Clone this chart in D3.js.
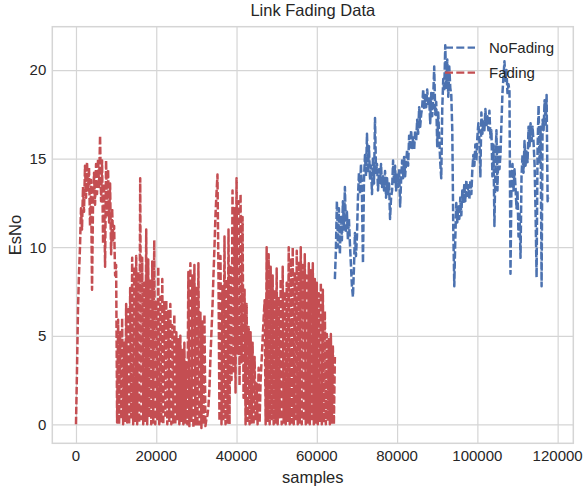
<!DOCTYPE html>
<html>
<head>
<meta charset="utf-8">
<script src="https://cdn.jsdelivr.net/npm/d3@7"></script>
<style>
    body { margin: 0; background: #fff; }
    text { font-family: "Liberation Sans", Arial, sans-serif; fill: #262626; }
</style>
</head>
<body>
<div id="chart"></div>
<script>
// Sample index spacing of the values below
const sampleStep = 250;
const fadingStart = 0;
const noFadingStart = 64500;

// Fading EsNo (samples 0..64500)
const fadingEsNo = [
    0.0, 3.0, 6.5, 8.5, 10.0, 12.2, 11.0, 13.4, 12.0, 14.6,
    12.8, 14.8, 13.2, 14.5, 11.2, 13.8, 7.6, 12.6, 14.2, 12.4,
    14.7, 13.0, 15.0, 13.4, 16.3, 12.6, 14.9, 10.2, 13.6, 8.9,
    14.9, 11.8, 14.4, 11.4, 13.6, 9.6, 12.2, 10.4, 11.2, 8.4,
    9.0, 0.1, 5.9, 0.0, 5.2, 0.3, 6.0, 0.0, 4.6, 0.2,
    6.8, 0.1, 6.5, 0.0, 7.7, 0.4, 9.4, 0.0, 8.9, 0.2,
    9.5, 0.0, 8.6, 0.1, 13.9, 0.3, 9.4, 0.0, 8.0, 0.2,
    11.0, 0.0, 9.3, 0.4, 8.2, 0.0, 9.2, 0.1, 10.4, 0.0,
    7.0, 0.3, 8.9, 0.0, 7.2, 0.1, 8.2, 0.0, 6.9, 0.5,
    7.0, 0.0, 6.4, 0.2, 6.8, 0.0, 5.6, 0.1, 6.2, 0.0,
    5.2, 0.3, 4.8, 0.0, 5.0, 0.2, 4.2, 0.0, 4.6, 0.1,
    3.5, 0.0, 8.6, -0.1, 9.1, 0.2, 8.4, -0.2, 9.0, 0.0,
    7.8, -0.1, 9.1, 0.0, 6.3, -0.2, 5.8, 0.0, 6.2, -0.1,
    0.3, 0.5, 1.0, 2.0, 3.8, 5.2, 6.6, 8.4, 10.0, 11.8,
    13.0, 14.1, 8.5, 0.2, 9.5, 0.0, 7.8, 0.3, 10.6, 0.0,
    8.2, 0.1, 11.0, 0.0, 9.0, 2.5, 13.2, 3.0, 12.2, 1.8,
    13.9, 4.0, 12.6, 2.2, 13.0, 3.5, 11.7, 1.5, 7.6, 0.0,
    6.8, 0.2, 5.5, 0.0, 5.2, 0.1, 4.6, 0.0, 3.8, 0.2,
    2.3, 0.0, 3.2, 0.1, 2.5, 3.6, 4.8, 6.0, 7.0, 0.0,
    10.0, 0.2, 9.6, 0.0, 8.9, 0.3, 8.4, 0.0, 7.6, 0.1,
    8.8, 0.0, 7.2, 0.4, 8.2, 0.0, 8.9, 0.1, 7.5, 0.0,
    8.0, 0.2, 10.0, 0.0, 9.4, 0.1, 10.0, 0.0, 8.6, 0.3,
    9.8, 0.0, 9.2, 0.1, 10.0, 0.0, 9.0, 0.2, 9.6, 0.0,
    8.4, 0.1, 9.1, 0.0, 8.7, 0.3, 9.1, 0.0, 8.2, 0.1,
    8.0, 0.0, 7.4, 0.2, 8.0, 0.0, 7.6, 0.1, 6.4, 0.0,
    5.1, 0.2, 4.8, 0.0, 5.1, 0.1, 4.4, 0.0, 3.8
];

// NoFading EsNo (samples 64500..117750)
const noFadingEsNo = [
    8.2, 9.8, 12.6, 10.0, 12.2, 9.6, 11.8, 10.4, 12.6, 11.0,
    13.4, 10.8, 12.0, 10.4, 11.6, 10.2, 9.0, 7.8, 7.2, 8.8,
    10.8, 9.5, 10.6, 12.8, 14.2, 13.0, 14.7, 12.9, 9.1, 13.8,
    15.2, 14.0, 16.4, 14.2, 15.7, 13.8, 14.6, 13.0, 15.1, 13.6,
    17.3, 14.2, 14.7, 13.2, 14.4, 13.6, 14.7, 13.4, 14.0, 13.2,
    14.3, 12.8, 13.9, 12.9, 13.6, 11.6, 12.8, 13.2, 14.9, 13.6,
    14.6, 13.2, 14.2, 13.4, 14.4, 12.3, 13.8, 14.9, 13.9, 15.1,
    14.0, 14.8, 15.5, 14.6, 16.3, 15.5, 16.6, 15.6, 16.2, 15.5,
    16.6, 16.0, 17.2, 16.4, 17.9, 16.8, 17.5, 17.9, 18.9, 17.8,
    18.6, 17.9, 18.9, 18.0, 18.4, 17.0, 18.7, 17.4, 18.5, 20.2,
    17.5, 18.2, 15.7, 17.6, 16.2, 14.8, 13.9, 17.8, 19.5, 18.8,
    21.4, 19.0, 20.6, 18.5, 20.2, 19.0, 18.6, 16.6, 11.0, 7.8,
    10.5, 12.5, 11.4, 12.3, 11.6, 12.8, 11.8, 13.2, 12.5, 13.6,
    12.6, 13.8, 12.9, 13.5, 12.7, 13.8, 13.0, 14.4, 15.2, 14.6,
    15.8, 14.9, 16.2, 17.0, 16.1, 14.0, 17.6, 16.4, 17.2, 16.6,
    17.8, 16.8, 17.4, 16.6, 17.7, 16.2, 16.6, 14.0, 15.8, 11.2,
    14.8, 16.6, 13.2, 15.8, 14.4, 15.2, 17.0, 18.7, 19.6, 20.5,
    19.4, 20.0, 18.7, 19.2, 18.8, 8.5, 13.6, 14.7, 13.2, 14.4,
    13.4, 12.2, 13.2, 10.6, 12.0, 9.4, 14.0, 15.2, 14.2, 16.0,
    14.6, 15.4, 14.8, 16.8, 15.7, 17.0, 16.0, 16.8, 15.9, 14.7,
    12.0, 8.3, 15.6, 18.0, 14.7, 16.8, 7.8, 17.2, 16.6, 18.3,
    16.8, 18.6, 12.6, 12.8
];

const xTicks = [0, 20000, 40000, 60000, 80000, 100000, 120000];
const yTicks = [0, 5, 10, 15, 20];
const seriesNames = ['NoFading', 'Fading'];

const config = {
    width: 585,
    height: 493,
    plot: { left: 52.3, right: 573.3, top: 26.7, bottom: 443.3 },
    colors: { NoFading: '#4C72B0', Fading: '#C44E52' },
    grid: '#d5d5d5',
    lineWidth: 2.5,
    dash: '7.5,2.5'
};

const toPoints = (values, start) => values.map((v, i) => ({ x: start + i * sampleStep, y: v }));

const series = [
    { name: 'NoFading', points: toPoints(noFadingEsNo, noFadingStart) },
    { name: 'Fading', points: toPoints(fadingEsNo, fadingStart) }
];

const p = config.plot;

const svg = d3.select('#chart')
    .append('svg')
    .attr('width', config.width)
    .attr('height', config.height);

const xScale = d3.scaleLinear().domain([-5900, 123900]).range([p.left, p.right]);
const yScale = d3.scaleLinear().domain([-1.07, 22.45]).range([p.bottom, p.top]);

// grid
svg.append('g')
    .attr('transform', `translate(0,${p.bottom})`)
    .call(d3.axisBottom(xScale).tickValues(xTicks).tickSize(-(p.bottom - p.top)).tickFormat(''))
    .call(g => g.select('.domain').remove())
    .call(g => g.selectAll('line').attr('stroke', config.grid).attr('stroke-width', 1.2));

svg.append('g')
    .attr('transform', `translate(${p.left},0)`)
    .call(d3.axisLeft(yScale).tickValues(yTicks).tickSize(-(p.right - p.left)).tickFormat(''))
    .call(g => g.select('.domain').remove())
    .call(g => g.selectAll('line').attr('stroke', config.grid).attr('stroke-width', 1.2));

// frame
svg.append('rect')
    .attr('x', p.left)
    .attr('y', p.top)
    .attr('width', p.right - p.left)
    .attr('height', p.bottom - p.top)
    .attr('fill', 'none')
    .attr('stroke', config.grid)
    .attr('stroke-width', 1.5);

// clip
svg.append('clipPath').attr('id', 'clip')
    .append('rect')
    .attr('x', p.left).attr('y', p.top)
    .attr('width', p.right - p.left).attr('height', p.bottom - p.top);

const line = d3.line()
    .x(d => xScale(d.x))
    .y(d => yScale(d.y));

svg.append('g')
    .attr('clip-path', 'url(#clip)')
    .selectAll('path')
    .data(series)
    .enter().append('path')
    .attr('d', d => line(d.points))
    .attr('fill', 'none')
    .attr('stroke', d => config.colors[d.name])
    .attr('stroke-width', config.lineWidth)
    .attr('stroke-dasharray', config.dash)
    .attr('stroke-linejoin', 'round');

// tick labels
svg.append('g')
    .selectAll('text')
    .data(xTicks)
    .enter().append('text')
    .attr('x', d => xScale(d))
    .attr('y', 461)
    .attr('text-anchor', 'middle')
    .attr('font-size', 15)
    .text(d => d);

svg.append('g')
    .selectAll('text')
    .data(yTicks)
    .enter().append('text')
    .attr('x', p.left - 6)
    .attr('y', d => yScale(d) + 5.3)
    .attr('text-anchor', 'end')
    .attr('font-size', 15)
    .text(d => d);

// axis labels and title
svg.append('text')
    .attr('x', (p.left + p.right) / 2)
    .attr('y', 483)
    .attr('text-anchor', 'middle')
    .attr('font-size', 16.5)
    .text('samples');

svg.append('text')
    .attr('transform', `translate(21,${(p.top + p.bottom) / 2}) rotate(-90)`)
    .attr('text-anchor', 'middle')
    .attr('font-size', 16.5)
    .text('EsNo');

svg.append('text')
    .attr('x', (p.left + p.right) / 2)
    .attr('y', 16)
    .attr('text-anchor', 'middle')
    .attr('font-size', 16.5)
    .text('Link Fading Data');

// legend
const legend = svg.append('g')
    .selectAll('g')
    .data(seriesNames)
    .enter().append('g')
    .attr('transform', (d, i) => `translate(445,${47.7 + i * 25})`);

legend.append('line')
    .attr('x1', 0).attr('x2', 30)
    .attr('stroke', d => config.colors[d])
    .attr('stroke-width', 2.2)
    .attr('stroke-dasharray', '8,3.3');

legend.append('text')
    .attr('x', 44)
    .attr('y', 5.3)
    .attr('font-size', 15)
    .text(d => d);
</script>
</body>
</html>
